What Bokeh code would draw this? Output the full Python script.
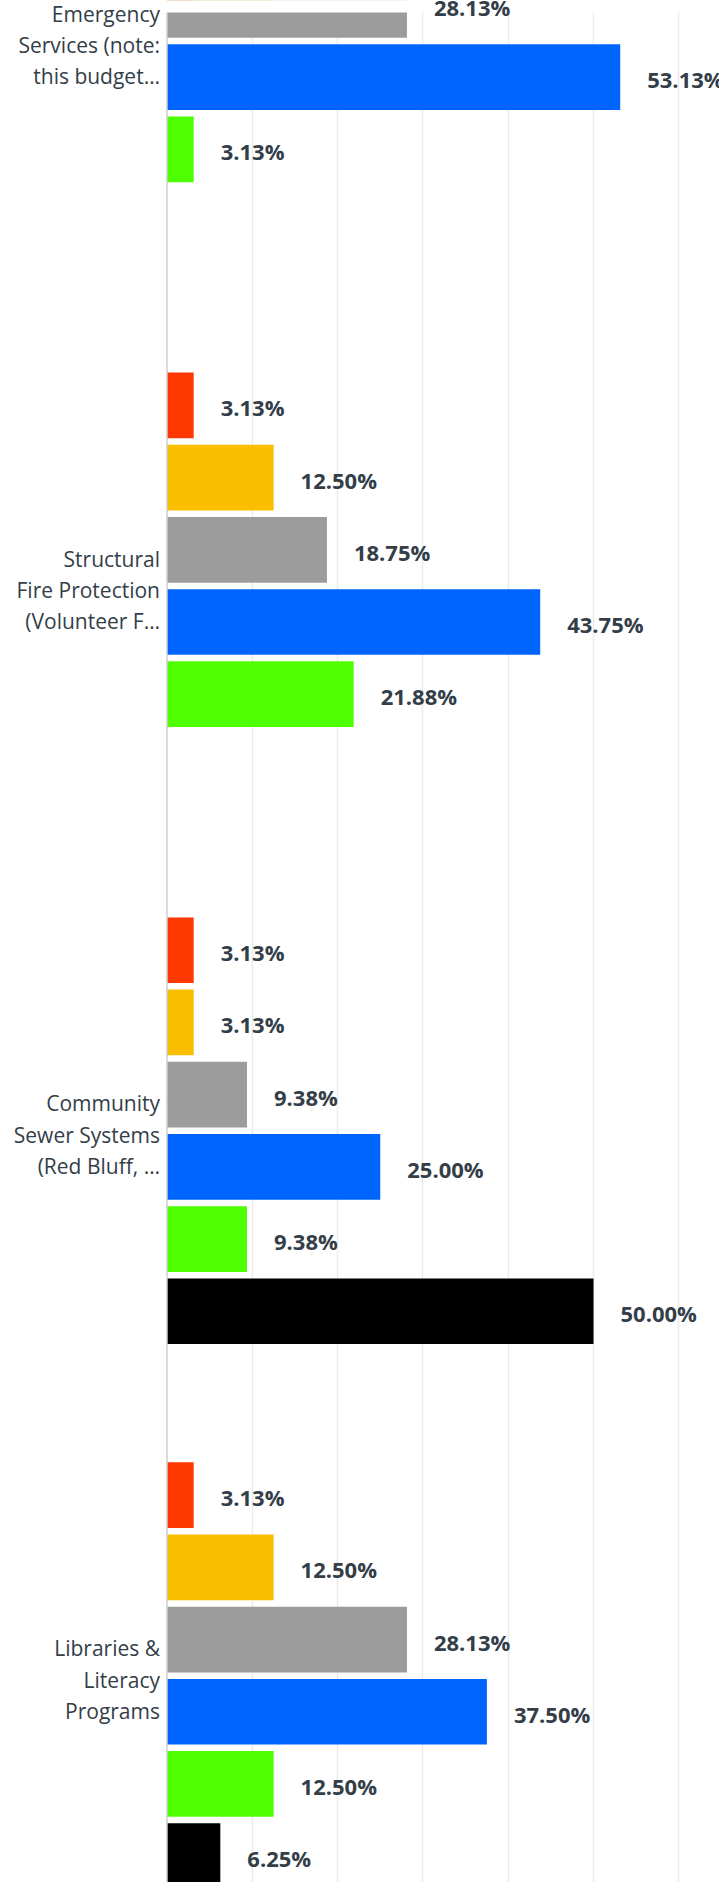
from bokeh.plotting import figure
from bokeh.models import ColumnDataSource, Range1d, FixedTicker, Span, LabelSet, BoxAnnotation
from bokeh.core.properties import value
from bokeh.embed import file_html
from bokeh.resources import INLINE

# ---- data (top to bottom) ----
categories = [
    ["Emergency", "Services (note:", "this budget…"],
    ["Structural", "Fire Protection", "(Volunteer F…"],
    ["Community", "Sewer Systems", "(Red Bluff, …"],
    ["Libraries &", "Literacy", "Programs"],
]
series_names = ["Option 1", "Option 2", "Option 3", "Option 4", "Option 5", "Option 6"]
series_colors = ["#ff3700", "#f9be00", "#9c9c9c", "#0064ff", "#4dff00", "#000000"]
values = {
    "Option 1": [3.13, 3.13, 3.13, 3.13],
    "Option 2": [12.50, 12.50, 3.13, 12.50],
    "Option 3": [28.13, 18.75, 9.38, 28.13],
    "Option 4": [53.13, 43.75, 25.00, 37.50],
    "Option 5": [3.13, 21.88, 9.38, 12.50],
    "Option 6": [0.00, 0.00, 50.00, 6.25],
}
x_ticks = [10, 20, 30, 40, 50, 60]

# ---- layout constants ----
GROUP_STEP = 7.547
BAR_H = 0.91
LINE_STEP = 0.4335
TEXT = "#333e48"
Y_TOP = 1.939      # frame top (data units)
Y_CLIP = 2.105     # bars/grid hidden above this
Y_BOTTOM = 28.006

ys, rights, colors, labels = [], [], [], []
for gi in range(len(categories)):
    for si, name in enumerate(series_names):
        v = values[name][gi]
        if v <= 0:
            continue
        ys.append(gi * GROUP_STEP + si)
        rights.append(v)
        colors.append(series_colors[si])
        labels.append(f"{v:.2f}%")

bars = ColumnDataSource(dict(y=ys, right=rights, color=colors, label=labels))

cy, cx, ct = [], [], []
for gi, lines in enumerate(categories):
    n = len(lines)
    for li, line in enumerate(lines):
        cy.append(gi * GROUP_STEP + 2.5 + (li - (n - 1) / 2) * LINE_STEP)
        cx.append(0.0)
        ct.append(line)
cats = ColumnDataSource(dict(y=cy, x=cx, text=ct))

p = figure(width=719, height=1882,
           x_range=Range1d(-18.58, 64.77), y_range=Range1d(Y_BOTTOM, Y_TOP),
           output_backend="svg", toolbar_location=None,
           min_border=0, min_border_left=8)
p.outline_line_color = None
p.xaxis.visible = False
p.yaxis.visible = False
p.ygrid.visible = False
p.xgrid.ticker = FixedTicker(ticks=x_ticks)
p.xgrid.grid_line_color = "#ebebeb"
p.xgrid.grid_line_width = 1.5

p.add_layout(Span(location=0, dimension="height", line_color="#cfcfcf", line_width=1.5))

p.hbar(y="y", left=0, right="right", height=BAR_H, fill_color="color",
       line_color=None, source=bars)

# white strip at the very top that hides bars and grid (texts stay visible)
p.add_layout(BoxAnnotation(top=Y_TOP - 1, bottom=Y_CLIP, fill_color="white",
                           fill_alpha=1.0, line_color=None))

p.add_layout(LabelSet(x="right", y="y", text="label", source=bars,
                      x_offset=27, y_offset=-2,
                      text_font=value("Open Sans"), text_font_size="22px",
                      text_font_style="bold", text_color=TEXT,
                      text_baseline="middle", text_align="left"))

p.add_layout(LabelSet(x="x", y="y", text="text", source=cats,
                      x_offset=-7, y_offset=-4,
                      text_font=value("Open Sans"), text_font_size="21px",
                      text_color=TEXT,
                      text_baseline="middle", text_align="right"))

open("out.html", "w").write(file_html(p, INLINE))
